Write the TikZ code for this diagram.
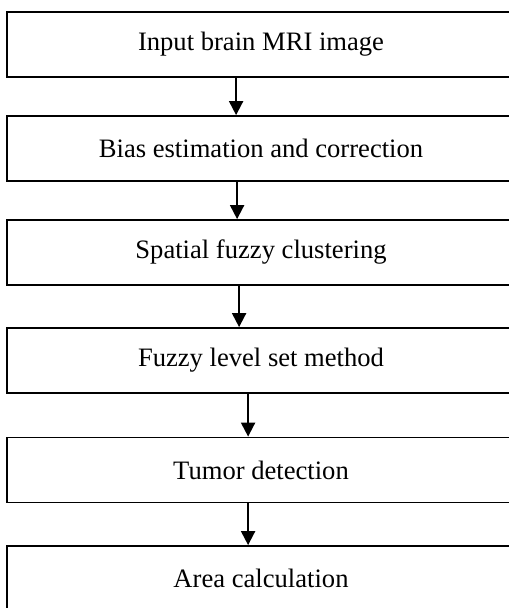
\documentclass[tikz,border=0pt]{standalone}
\usepackage{fontspec}
\setmainfont{Liberation Serif}
\usetikzlibrary{arrows.meta}

\begin{document}
\begin{tikzpicture}[
    node distance=52pt,
    stepbox/.style={rectangle, draw=black, line width=0.9pt, minimum width=300pt, minimum height=32.5pt, inner sep=0pt, font=\fontsize{13.3}{16}\selectfont, execute at end node=\hspace*{46pt}},
    arrow/.style={-{Triangle[length=7pt,width=7pt]}, line width=1pt}
]
    \useasboundingbox (0,0) rectangle (254pt,-304pt);

    \node[stepbox] (input) at (153.5pt,-22.25pt) {Input brain MRI image};
    \node[stepbox, below of=input] (bias) {Bias estimation and correction};
    \node[stepbox, below of=bias] (cluster) {Spatial fuzzy clustering};
    \node[stepbox, below of=cluster, yshift=-2pt] (levelset) {Fuzzy level set method};
    \node[stepbox, below of=levelset, yshift=-2.75pt] (tumor) {Tumor detection};
    \node[stepbox, below of=tumor, yshift=-2.25pt] (area) {Area calculation};

    \draw[arrow] ([xshift=115pt]input.south west) -- ([xshift=115pt]input.south west |- bias.north);
    \draw[arrow] ([xshift=115.5pt]bias.south west) -- ([xshift=115.5pt]bias.south west |- cluster.north);
    \draw[arrow] ([xshift=116.5pt]cluster.south west) -- ([xshift=116.5pt]cluster.south west |- levelset.north);
    \draw[arrow] ([xshift=121pt]levelset.south west) -- ([xshift=121pt]levelset.south west |- tumor.north);
    \draw[arrow] ([xshift=121pt]tumor.south west) -- ([xshift=121pt]tumor.south west |- area.north);
\end{tikzpicture}
\end{document}
